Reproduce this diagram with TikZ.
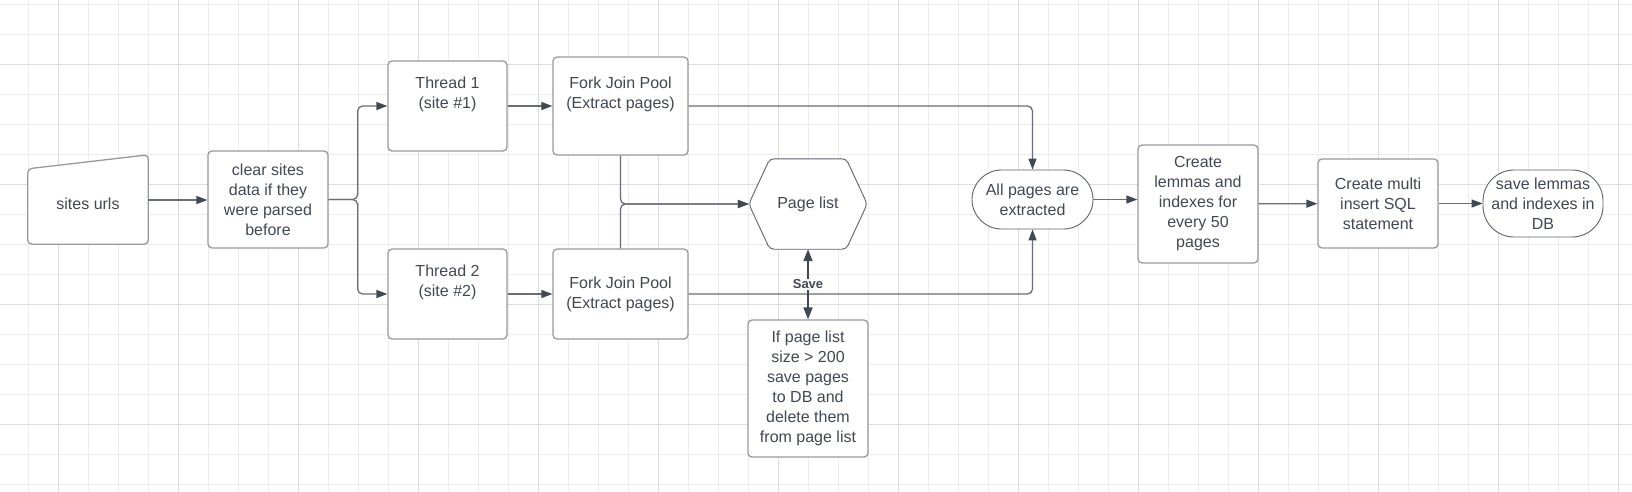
\documentclass[tikz,border=0pt]{standalone}
\usepackage{fontspec}
\setmainfont{Liberation Sans}
\usetikzlibrary{arrows.meta,calc}

\definecolor{ink}{RGB}{66,72,82}
\definecolor{edgegray}{RGB}{105,110,118}
\definecolor{framegray}{RGB}{150,153,158}
\definecolor{gridthin}{RGB}{236,236,236}
\definecolor{gridbold}{RGB}{220,220,220}

\begin{document}
\begin{tikzpicture}[
  x=1pt, y=-1pt,
  font=\fontsize{16}{20}\selectfont,
  >={Triangle[length=11pt, width=8pt, color=ink]},
  box/.style={rectangle, rounded corners=4pt, draw=framegray, line width=1.3pt, fill=white,
              text=ink, align=center, minimum width=120pt, inner sep=0pt},
  pill/.style={rectangle, draw=ink!85, line width=0.9pt, fill=white,
               text=ink, align=center, minimum width=120pt, inner sep=0pt},
  plain/.style={text=ink, align=center, inner sep=0pt},
  outline/.style={draw=framegray, line width=1.3pt, fill=white, rounded corners=4pt},
  hexline/.style={draw=ink!85, line width=0.9pt, fill=white, rounded corners=4pt},
  flow/.style={->, line width=1.3pt, draw=edgegray, rounded corners=5pt},
  savelink/.style={<->, line width=1.8pt, draw=ink, >={Triangle[length=12pt, width=9pt]}},
  tag/.style={fill=white, text=ink, font=\fontsize{13}{15}\selectfont\bfseries, inner sep=1pt},
]

\def\rowa{106}  \def\rowb{294}  \def\mid{200}

% background grid
\fill[white] (0,0) rectangle (1632,491);
\useasboundingbox (0,0) rectangle (1632,491);
\foreach \k in {0,...,53}
  \draw[gridthin, line width=1pt] ({28.3+30*\k},0) -- ++(0,491);
\foreach \k in {0,...,16}
  \draw[gridthin, line width=1pt] (0,{4.3+30*\k}) -- ++(1632,0);
\foreach \k in {0,...,13}
  \draw[gridbold, line width=1pt] ({58.3+120*\k},0) -- ++(0,491);
\foreach \k in {0,...,3}
  \draw[gridbold, line width=1pt] (0,{64.3+120*\k}) -- ++(1632,0);

% input
\node[plain, minimum width=120, minimum height=88] (urls) at (88,\mid) {};
\draw[outline] (urls.south west) -- ([yshift=-13pt]urls.north west)
  -- ([yshift=1pt]urls.north east) -- (urls.south east) -- cycle;
\node[plain] at ([yshift=-4pt]urls.center) {sites urls};

\node[box, minimum height=97] (clear) at (268,199.5) {clear sites\\data if they\\were parsed\\before};

% threads and pools
\node[box, minimum width=119, minimum height=90] (thrA) at (447.5,\rowa) {Thread 1\\(site \#1)\\[6pt]};
\node[box, minimum width=119, minimum height=90] (thrB) at (447.5,\rowb) {Thread 2\\(site \#2)\\[6pt]};
\node[box, minimum width=135, minimum height=98] (poolA) at (620.5,\rowa) {Fork Join Pool\\(Extract pages)\\[6pt]};
\node[box, minimum width=135, minimum height=90] (poolB) at (620.5,\rowb) {Fork Join Pool\\(Extract pages)};

% page list
\node[plain, minimum width=118, minimum height=90] (pagelist) at (808,204) {};
\draw[hexline] (pagelist.west) -- ([xshift=21pt]pagelist.north west)
  -- ([xshift=-21pt]pagelist.north east) -- (pagelist.east)
  -- ([xshift=-21pt]pagelist.south east) -- ([xshift=21pt]pagelist.south west) -- cycle;
\node[plain] at (pagelist.center) {Page list};

\node[box, minimum height=137] (savebox) at (808,388.5)
  {If page list\\size > 200\\save pages\\to DB and\\delete them\\from page list};

% indexing
\node[pill, rounded corners=29.5pt, minimum width=121, minimum height=59] (allpages) at (1032.5,199.5) {All pages are\\extracted};
\node[box, minimum height=118] (lemmas) at (1198,204) {Create\\lemmas and\\indexes for\\every 50\\pages};
\node[box, minimum height=89] (multi) at (1378,203.5) {Create multi\\insert SQL\\statement};
\node[pill, rounded corners=31pt, minimum height=67] (savedb) at (1543,203.5) {save lemmas\\and indexes in\\DB};

% connectors
\draw[flow] (urls.east) -- (urls.east -| clear.west);
\draw[flow] (clear.east) -- ++(29,0) |- (thrA.west);
\draw[flow] (clear.east) -- ++(29,0) |- (thrB.west);
\draw[flow] (thrA) -- (poolA);
\draw[flow] (thrB) -- (poolB);
\draw[flow] (poolA.south) |- (pagelist.west);
\draw[flow] (poolB.north) |- (pagelist.west);
\draw[flow] (poolA.east) -| (allpages.north);
\draw[flow] (poolB.east) -| (allpages.south);
\draw[savelink] (pagelist.south) -- node[tag]{Save} (savebox.north);
\draw[flow] (allpages.east) -- (allpages.east -| lemmas.west);
\draw[flow] (lemmas) -- (multi);
\draw[flow] (multi) -- (savedb);

\end{tikzpicture}
\end{document}
